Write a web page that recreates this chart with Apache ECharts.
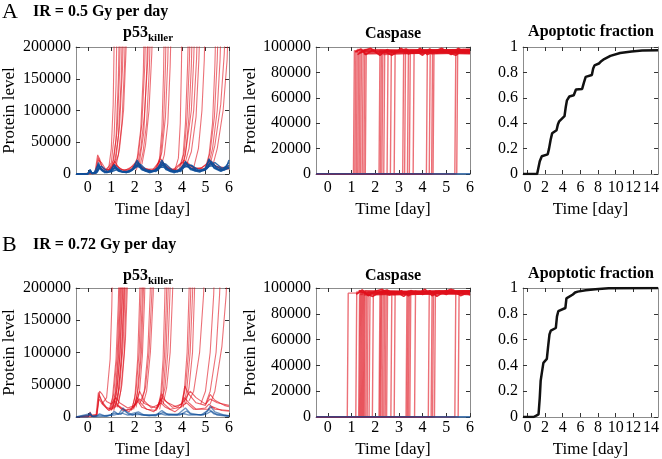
<!DOCTYPE html>
<html>
<head>
<meta charset="utf-8">
<script src="https://cdn.jsdelivr.net/npm/echarts@6/dist/echarts.min.js"></script>
<style>
  html, body { margin: 0; padding: 0; background: #fff; }
  #main { width: 662px; height: 459px; }
</style>
</head>
<body>
<div id="main"></div>
<script>
// values of the p53 / caspase traces are in thousands of molecules
const K = 1000;

// ---- panel A : IR = 0.5 Gy per day ----
// p53_killer, surviving cells (blue)
const p53BlueA = [
  [[-0.5,0.3],[0,0.3],[0.05,2],[0.1,7],[0.16,1],[0.35,1],[0.45,18],[0.55,9],[0.75,3],[0.95,4],[1.12,15],[1.3,5],[1.6,3],[1.9,7],[2.1,22],[2.3,8],[2.6,3],[2.95,6],[3.15,22],[3.35,8],[3.7,3],[3.95,7],[4.15,20],[4.35,9],[4.8,4],[5.0,9],[5.15,24],[5.35,10],[5.7,5],[6,14]],
  [[-0.5,0.2],[0,0.2],[0.06,1],[0.11,6],[0.18,1],[0.38,2],[0.47,14],[0.6,6],[0.8,2],[1.0,5],[1.18,12],[1.4,4],[1.7,3],[1.95,8],[2.15,18],[2.35,6],[2.7,3],[3.0,7],[3.2,18],[3.45,6],[3.8,3],[4.0,8],[4.2,16],[4.45,12],[4.6,6],[4.9,5],[5.1,11],[5.25,20],[5.5,8],[5.8,6],[6,10]],
  [[-0.5,0.4],[0,0.4],[0.1,5],[0.17,1],[0.4,3],[0.5,12],[0.62,5],[0.85,3],[1.05,8],[1.2,10],[1.45,4],[1.8,4],[2.05,14],[2.2,12],[2.45,5],[2.8,4],[3.1,15],[3.25,12],[3.55,5],[3.9,5],[4.1,14],[4.3,10],[4.55,5],[5.0,6],[5.2,18],[5.45,12],[5.75,7],[5.95,16],[6,18]],
  [[-0.5,0],[0,0],[0.12,4],[0.2,0.5],[0.42,4],[0.52,10],[0.7,4],[1.0,3],[1.15,9],[1.35,4],[1.75,3],[2.0,10],[2.25,15],[2.5,6],[2.9,4],[3.12,12],[3.3,16],[3.6,6],[3.95,4],[4.12,12],[4.4,14],[4.7,6],[5.05,8],[5.2,14],[5.4,18],[5.7,9],[5.9,12],[6,22]],
  [[-0.5,0.5],[0,0.5],[0.1,3],[0.2,0.5],[0.45,8],[0.58,12],[0.8,5],[1.05,4],[1.25,7],[1.5,3],[1.85,5],[2.1,12],[2.4,7],[2.75,4],[3.05,10],[3.2,11],[3.5,4],[3.85,4],[4.05,10],[4.25,12],[4.6,5],[4.95,6],[5.15,12],[5.3,13],[5.6,6],[5.85,8],[6,9]],
  [[-0.5,0.1],[0,0.1],[0.09,6],[0.15,2],[0.25,0.5],[0.44,15],[0.54,7],[0.72,2],[0.98,5],[1.1,13],[1.28,5],[1.65,2],[1.92,9],[2.08,19],[2.28,7],[2.65,2],[2.98,9],[3.14,19],[3.32,7],[3.68,2],[3.98,10],[4.16,18],[4.36,7],[4.75,3],[5.02,10],[5.16,22],[5.38,9],[5.65,4],[5.95,10],[6,11]]
];
// p53_killer, dying cells: pulsing part (red)
const p53PulseA = [
  [[-0.5,0],[0.3,0.5],[0.42,30],[0.5,24],[0.62,10],[0.85,5],[1.05,12],[1.15,20],[1.35,8],[1.7,5],[1.95,15],[2.1,20],[2.35,9],[2.75,6],[3.0,18],[3.1,24],[3.35,10],[3.7,6],[3.95,16],[4.1,22],[4.35,12],[4.75,8],[5.05,15],[5.2,22],[5.45,12],[5.8,10],[6,12]],
  [[-0.5,0],[0.32,1],[0.44,26],[0.55,15],[0.7,6],[0.95,8],[1.2,14],[1.45,6],[1.85,8],[2.05,16],[2.3,11],[2.7,5],[3.05,12],[3.2,18],[3.45,8],[3.85,7],[4.05,14],[4.25,18],[4.5,9],[4.95,8],[5.15,16],[5.35,14],[5.7,7],[6,8]],
  [[-0.5,0],[0.33,2],[0.46,22],[0.58,18],[0.75,8],[1.0,6],[1.1,16],[1.25,12],[1.55,5],[1.9,12],[2.15,14],[2.4,7],[2.85,8],[3.05,20],[3.3,13],[3.6,6],[3.98,18],[4.15,16],[4.4,8],[4.85,10],[5.1,18],[5.3,16],[5.6,9],[6,10]]
];
// p53_killer, dying cells: runaway rise (red)
const p53RiseA = [
  [[0.7,5],[0.9,12],[1.0,40],[1.08,110],[1.13,230]],
  [[0.8,6],[1.0,18],[1.12,60],[1.2,140],[1.24,230]],
  [[0.85,4],[1.05,15],[1.2,55],[1.3,150],[1.34,230]],
  [[0.9,8],[1.1,22],[1.25,70],[1.35,160],[1.39,230]],
  [[0.95,6],[1.15,20],[1.3,60],[1.42,150],[1.47,230]],
  [[1.0,9],[1.2,25],[1.35,75],[1.48,170],[1.52,230]],
  [[1.1,10],[1.3,30],[1.45,80],[1.56,170],[1.6,230]],
  [[1.2,12],[1.35,40],[1.52,100],[1.62,190],[1.66,230]],
  [[1.9,8],[2.1,25],[2.25,70],[2.36,160],[2.4,230]],
  [[2.0,10],[2.15,30],[2.3,80],[2.42,170],[2.46,230]],
  [[2.05,6],[2.2,20],[2.38,65],[2.5,160],[2.55,230]],
  [[2.1,12],[2.25,40],[2.4,90],[2.55,180],[2.58,230]],
  [[2.2,10],[2.35,35],[2.5,80],[2.62,170],[2.66,230]],
  [[2.3,15],[2.45,45],[2.6,100],[2.72,190],[2.75,230]],
  [[2.9,8],[3.05,25],[3.15,70],[3.22,160],[3.25,230]],
  [[2.95,10],[3.1,30],[3.22,80],[3.3,170],[3.33,230]],
  [[3.0,12],[3.15,35],[3.3,90],[3.4,180],[3.43,230]],
  [[3.1,10],[3.25,30],[3.4,80],[3.5,170],[3.54,230]],
  [[3.7,6],[3.85,25],[3.93,80],[3.98,170],[4.0,230]],
  [[3.9,10],[4.05,30],[4.15,80],[4.24,170],[4.28,230]],
  [[3.95,12],[4.1,35],[4.22,90],[4.32,180],[4.35,230]],
  [[4.0,10],[4.15,30],[4.3,90],[4.4,170],[4.44,230]],
  [[4.05,15],[4.2,45],[4.4,100],[4.5,180],[4.54,230]],
  [[4.1,12],[4.3,40],[4.5,100],[4.62,180],[4.66,230]],
  [[4.2,15],[4.4,35],[4.6,90],[4.72,180],[4.76,230]],
  [[4.5,10],[4.7,40],[4.85,100],[4.95,180],[4.98,230]],
  [[5.0,10],[5.15,30],[5.3,80],[5.4,170],[5.44,230]],
  [[5.05,12],[5.2,35],[5.38,90],[5.5,180],[5.54,230]],
  [[5.1,10],[5.3,40],[5.5,100],[5.62,180],[5.66,230]],
  [[5.2,15],[5.4,45],[5.65,110],[5.8,190],[5.84,230]],
  [[5.3,12],[5.5,40],[5.75,100],[5.92,180],[5.96,230]]
];
// caspase switch: [onset day, level after switch, level at day 6]
const casRedA = [
  [1.08,97,96.5],[1.14,96,97],[1.2,98,96],[1.26,95.5,97.5],[1.32,97,95],[1.38,96.5,98],[1.45,94.5,96],[1.52,98,97],[1.58,95,96],
  [2.16,97.5,95.5],[2.22,96,97],[2.28,94,96.5],[2.36,97,98],[2.5,95.5,96],[2.64,96.5,94.5],[2.8,97,97.5],
  [3.16,95,96.5],[3.24,98,97],[3.36,96,95],[3.44,97.5,98],[3.6,95,96.5],
  [4.16,96.5,97],[4.28,94.5,95.5],[4.38,97,98],[4.44,96,96],
  [5.36,95.5,97],[5.44,97,96]
];
const casNoiseA = [
  [[1.15,96],[1.4,98.5],[1.6,94],[1.9,97.5],[2.2,93.5],[2.5,98],[2.8,95],[3.1,99],[3.4,94.5],[3.7,97],[4.0,93.5],[4.3,98.5],[4.6,95],[4.9,97.5],[5.2,94],[5.5,99],[5.8,95.5],[6,97]],
  [[1.25,94],[1.5,97],[1.8,99],[2.1,95],[2.4,96.5],[2.7,93.5],[3.0,97],[3.3,98.5],[3.6,95],[3.9,99],[4.2,94],[4.5,96.5],[4.8,99],[5.1,95.5],[5.4,93.5],[5.7,98],[6,95]]
];
const casBlueA = [[-0.5,0],[6,0]];
// fraction of apoptotic cells
const apopA = [[-0.5,0],[1.1,0],[1.4,0.1],[1.63,0.14],[2.3,0.155],[2.45,0.2],[2.63,0.27],[2.8,0.32],[2.95,0.33],[3.3,0.345],[3.45,0.39],[3.6,0.415],[4.2,0.455],[4.35,0.53],[4.48,0.58],[4.75,0.61],[5.25,0.62],[5.5,0.665],[6.2,0.67],[6.4,0.72],[6.6,0.765],[7.3,0.78],[7.45,0.83],[7.6,0.855],[8.1,0.87],[8.4,0.89],[8.7,0.905],[9.4,0.93],[10.5,0.953],[11.8,0.965],[13,0.972],[14.8,0.975]];

// ---- panel B : IR = 0.72 Gy per day ----
const p53BlueB = [
  [[-0.5,0],[0,0],[0.05,1],[0.1,7],[0.17,1],[0.4,2],[0.5,5],[0.7,2],[1.0,3],[1.12,9],[1.3,4],[1.5,14],[1.65,8],[1.9,3],[2.1,6],[2.3,3],[2.9,3],[3.15,10],[3.35,5],[3.8,3],[4.15,14],[4.35,6],[4.8,3],[5.1,10],[5.2,17],[5.4,8],[5.8,3],[6,2]],
  [[-0.5,0],[0.1,5],[0.2,1],[0.5,3],[0.8,1],[1.15,6],[1.4,4],[1.55,10],[1.75,4],[2.15,8],[2.4,3],[2.9,2],[3.2,7],[3.45,3],[3.9,3],[4.2,9],[4.4,4],[4.9,3],[5.15,12],[5.35,5],[5.9,2],[6,2]],
  [[-0.5,0],[0.12,3],[0.25,0.5],[0.6,1],[1.1,3],[1.45,6],[1.7,3],[2.2,4],[2.6,2],[3.1,5],[3.3,3],[4.1,5],[4.3,3],[5.0,4],[5.25,9],[5.5,3],[6,1]]
];
const p53PulseB = [
  [[-0.5,0],[0,0],[0.08,6],[0.16,1],[0.35,2],[0.45,38],[0.52,32],[0.65,20],[0.85,12],[1.05,15],[1.15,25],[1.3,18],[1.6,10],[1.95,15],[2.1,30],[2.25,22],[2.5,12],[2.9,10],[3.1,28],[3.25,20],[3.5,12],[3.95,15],[4.1,30],[4.3,22],[4.6,12],[5.0,14],[5.15,20],[5.4,12],[6,10]],
  [[-0.5,0],[0.05,2],[0.1,8],[0.18,1],[0.38,3],[0.47,34],[0.58,25],[0.8,15],[1.0,12],[1.2,20],[1.4,14],[1.75,8],[2.05,22],[2.2,40],[2.4,25],[2.7,14],[3.05,20],[3.15,36],[3.3,25],[3.6,15],[4.0,20],[4.12,48],[4.3,35],[4.6,22],[5.0,18],[5.2,35],[5.4,26],[5.8,18],[6,16]],
  [[-0.5,0],[0.36,1],[0.48,28],[0.62,20],[0.9,10],[1.1,14],[1.25,18],[1.5,10],[1.9,12],[2.12,25],[2.3,15],[2.8,8],[3.1,22],[3.3,15],[3.7,8],[4.05,18],[4.2,22],[4.5,12],[5.1,12],[5.3,16],[5.7,10],[6,9]],
  [[-0.5,0],[0.4,4],[0.5,40],[0.6,36],[0.8,24],[1.0,20],[1.2,30],[1.35,22],[1.7,14],[2.0,18],[2.2,28],[2.45,20],[2.9,14],[3.15,30],[3.4,22],[3.8,15],[4.1,25],[4.35,40],[4.6,30],[5.0,20],[5.2,28],[5.5,22],[6,18]]
];
const p53RiseB = [
  [[0.6,20],[0.8,30],[0.95,90],[1.02,170],[1.05,230]],
  [[0.9,10],[1.05,30],[1.2,90],[1.3,180],[1.33,230]],
  [[0.95,12],[1.1,35],[1.25,95],[1.34,180],[1.37,230]],
  [[1.0,10],[1.15,30],[1.28,90],[1.38,180],[1.41,230]],
  [[1.0,15],[1.2,40],[1.32,100],[1.42,190],[1.45,230]],
  [[1.05,12],[1.22,35],[1.35,90],[1.45,180],[1.48,230]],
  [[1.1,18],[1.25,45],[1.38,100],[1.48,190],[1.51,230]],
  [[1.1,10],[1.28,30],[1.42,90],[1.52,180],[1.55,230]],
  [[1.15,15],[1.3,40],[1.45,100],[1.55,190],[1.58,230]],
  [[1.2,20],[1.35,45],[1.5,110],[1.58,190],[1.61,230]],
  [[1.25,15],[1.4,40],[1.55,100],[1.63,190],[1.66,230]],
  [[1.3,20],[1.45,50],[1.6,120],[1.68,200],[1.7,230]],
  [[1.85,10],[2.0,30],[2.12,90],[2.2,180],[2.23,230]],
  [[1.9,15],[2.05,40],[2.18,100],[2.26,190],[2.29,230]],
  [[1.95,12],[2.1,35],[2.22,90],[2.31,180],[2.34,230]],
  [[2.0,18],[2.15,45],[2.28,100],[2.36,190],[2.39,230]],
  [[2.05,15],[2.2,40],[2.32,95],[2.41,180],[2.44,230]],
  [[2.2,20],[2.4,40],[2.55,100],[2.65,190],[2.68,230]],
  [[2.3,25],[2.45,45],[2.6,100],[2.72,190],[2.75,230]],
  [[2.35,20],[2.5,40],[2.66,100],[2.78,190],[2.81,230]],
  [[2.95,12],[3.1,35],[3.2,90],[3.27,180],[3.3,230]],
  [[3.0,15],[3.15,40],[3.26,95],[3.34,180],[3.37,230]],
  [[3.05,12],[3.2,35],[3.32,95],[3.41,190],[3.44,230]],
  [[3.1,20],[3.28,45],[3.4,100],[3.49,190],[3.52,230]],
  [[3.2,20],[3.35,45],[3.5,100],[3.6,190],[3.63,230]],
  [[3.95,15],[4.1,40],[4.22,100],[4.3,190],[4.33,230]],
  [[4.0,18],[4.15,45],[4.28,100],[4.37,190],[4.4,230]],
  [[4.05,15],[4.2,40],[4.35,100],[4.45,190],[4.48,230]],
  [[4.15,20],[4.3,45],[4.45,100],[4.53,190],[4.56,230]],
  [[4.3,25],[4.5,40],[4.75,100],[4.92,190],[4.96,230]],
  [[4.8,20],[5.0,40],[5.2,100],[5.35,190],[5.38,230]],
  [[5.0,20],[5.2,40],[5.45,100],[5.6,190],[5.64,230]],
  [[5.2,20],[5.4,40],[5.7,110],[5.88,190],[5.92,230]]
];
const casRedB = [
  [0.82,96,97],[1.18,97,96],[1.3,95,97.5],[1.34,98,96],[1.38,96.5,95],[1.42,97,98],[1.46,94.5,96.5],[1.5,96,97],[1.54,98,95.5],[1.6,95.5,97],[1.66,97,96],[1.74,96,98],[1.88,95,96.5],
  [2.16,97,96],[2.2,95.5,97.5],[2.24,98,95],[2.3,96,96.5],[2.36,97.5,98],[2.42,94.5,96],[2.48,96.5,97],[2.66,95,96],[2.8,97,97.5],
  [3.3,96,97],[3.35,98,95.5],[3.4,95,96.5],[3.46,97,98],[3.66,96.5,96],
  [4.24,95.5,97],[4.36,97,96],[4.42,96,98],[4.5,98,96.5],
  [5.36,96,97],[5.5,97,96]
];
const casNoiseB = [
  [[1.2,95],[1.45,98.5],[1.7,94],[2.0,97.5],[2.3,99],[2.6,94.5],[2.9,97],[3.2,93.5],[3.5,98],[3.8,95.5],[4.1,99],[4.4,94],[4.7,97.5],[5.0,95],[5.3,98.5],[5.6,94],[6,97]],
  [[1.3,98],[1.6,95.5],[1.9,93.5],[2.2,97],[2.5,98.5],[2.8,95],[3.1,98],[3.4,94],[3.7,97.5],[4.0,95],[4.3,98],[4.6,93.5],[4.9,97],[5.2,99],[5.5,95.5],[5.8,97],[6,94.5]]
];
const casBlueB = [[-0.5,0],[6,0]];
const apopB = [[-0.5,0],[0.7,0],[1.0,0.01],[1.26,0.02],[1.4,0.15],[1.5,0.28],[1.63,0.34],[1.81,0.42],[2.2,0.45],[2.35,0.55],[2.5,0.64],[2.65,0.67],[3.22,0.69],[3.35,0.78],[3.5,0.82],[4.3,0.845],[4.42,0.92],[4.55,0.935],[5.15,0.95],[5.4,0.965],[5.7,0.972],[6.6,0.982],[7.7,0.99],[9.2,0.998],[14.8,1.0]];

// tick labels
const dayTicks = [0, 1, 2, 3, 4, 5, 6];
const apopTicks = [0, 2, 4, 6, 8, 10, 12, 14];

const FONT = "'Liberation Serif', 'Times New Roman', serif";
const RED = "#e0101c";
const BLUE = "#0f4f9a";

// plot boxes: A row then B row
const grids = [
  { left: 76, top: 47, width: 153, height: 127 },
  { left: 316, top: 47, width: 154, height: 127 },
  { left: 523, top: 47, width: 136, height: 127 },
  { left: 76, top: 288, width: 153, height: 129 },
  { left: 316, top: 288, width: 154, height: 129 },
  { left: 523, top: 288, width: 136, height: 129 },
];

const xAxes = [];
const yAxes = [];

// one box = bottom+top x axis, left+right y axis
function addBox(g, xMax, xTicks, yMax, yStep, yName, yNameGap, labelMargin) {
  const tick = { show: true, inside: true, length: 4, lineStyle: { color: "#333" } };
  const line = { show: true, onZero: false, lineStyle: { color: "#8c8c8c", width: 1 } };
  xAxes.push({
    gridIndex: g, type: "value", min: -0.5, max: xMax, position: "bottom",
    axisLine: line, axisTick: Object.assign({ customValues: xTicks }, tick),
    axisLabel: { customValues: xTicks, color: "#000", fontFamily: FONT, fontSize: 16, margin: labelMargin },
    splitLine: { show: false },
    name: "Time [day]", nameLocation: "middle", nameGap: labelMargin + 21,
    nameTextStyle: { color: "#000", fontFamily: FONT, fontSize: 17 },
  });
  xAxes.push({
    gridIndex: g, type: "value", min: -0.5, max: xMax, position: "top",
    axisLine: line, axisTick: Object.assign({ customValues: xTicks }, tick),
    axisLabel: { show: false }, splitLine: { show: false },
  });
  yAxes.push({
    gridIndex: g, type: "value", min: 0, max: yMax, interval: yStep, position: "left",
    axisLine: line, axisTick: tick,
    axisLabel: { color: "#000", fontFamily: FONT, fontSize: 16, margin: 5, formatter: (v) => String(v) },
    splitLine: { show: false },
    name: yName, nameLocation: "middle", nameGap: yNameGap, nameRotate: 90,
    nameTextStyle: { color: "#000", fontFamily: FONT, fontSize: 17 },
  });
  yAxes.push({
    gridIndex: g, type: "value", min: 0, max: yMax, interval: yStep, position: "right",
    axisLine: line, axisTick: tick, axisLabel: { show: false }, splitLine: { show: false },
  });
}

addBox(0, 6, dayTicks, 200000, 50000, "Protein level", 58, 6);
addBox(1, 6, dayTicks, 100000, 20000, "Protein level", 55, 6);
addBox(2, 14.8, apopTicks, 1, 0.2, "", 0, 6);
addBox(3, 6, dayTicks, 200000, 50000, "Protein level", 58, 3);
addBox(4, 6, dayTicks, 100000, 20000, "Protein level", 55, 3);
addBox(5, 14.8, apopTicks, 1, 0.2, "", 0, 3);

const series = [];
function addLine(g, data, color, opacity, width) {
  series.push({
    type: "line", xAxisIndex: 2 * g, yAxisIndex: 2 * g,
    data: data, showSymbol: false, symbol: "none", silent: true, animation: false,
    lineStyle: { color: color, opacity: opacity, width: width },
  });
}
const toUnits = (trace) => trace.map((p) => [p[0], p[1] * K]);
// caspase step: flat 0, fast switch, high plateau
const casStep = (c) => [[-0.5, 0], [c[0], 0], [c[0] + 0.04, c[1] * K], [6, c[2] * K]];

function addPanelRow(row, rise, pulse, blue, casRed, casNoise, casBlue, apop, blueOpacity) {
  const g = row * 3;
  rise.forEach((t) => addLine(g, toUnits(t), RED, 0.6, 1.1));
  pulse.forEach((t) => addLine(g, toUnits(t), RED, 0.65, 1.1));
  blue.forEach((t) => addLine(g, toUnits(t), BLUE, blueOpacity, 1.4));
  casRed.forEach((c) => addLine(g + 1, casStep(c), RED, 0.6, 1.4));
  casNoise.forEach((t) => addLine(g + 1, toUnits(t), RED, 0.9, 1.6));
  addLine(g + 1, casBlue, BLUE, 1, 1.5);
  addLine(g + 2, apop, "#111", 1, 2.5);
}
addPanelRow(0, p53RiseA, p53PulseA, p53BlueA, casRedA, casNoiseA, casBlueA, apopA, 0.85);
addPanelRow(1, p53RiseB, p53PulseB, p53BlueB, casRedB, casNoiseB, casBlueB, apopB, 0.6);

// headings
function txt(x, y, text, size, weight, align) {
  return {
    type: "text", x: x, y: y, silent: true,
    style: { text: text, fontFamily: FONT, fontSize: size, fontWeight: weight,
      fill: "#000", align: align || "center", verticalAlign: "middle" },
  };
}
const graphics = [
  txt(2, 12, "A", 22, "normal", "left"),
  txt(33, 12, "IR = 0.5 Gy per day", 16, "bold", "left"),
  txt(148, 33, "p53", 16, "bold", "right"),
  txt(148, 38, "killer", 11, "bold", "left"),
  txt(393, 34, "Caspase", 16, "bold"),
  txt(591, 32, "Apoptotic fraction", 16, "bold"),
  txt(2, 245, "B", 22, "normal", "left"),
  txt(33, 245, "IR = 0.72 Gy per day", 16, "bold", "left"),
  txt(148, 276, "p53", 16, "bold", "right"),
  txt(148, 281, "killer", 11, "bold", "left"),
  txt(393, 276, "Caspase", 16, "bold"),
  txt(591, 274, "Apoptotic fraction", 16, "bold"),
];

const chart = echarts.init(document.getElementById("main"));
chart.setOption({
  animation: false,
  backgroundColor: "#fff",
  grid: grids,
  xAxis: xAxes,
  yAxis: yAxes,
  series: series,
  graphic: graphics,
});
</script>
</body>
</html>
